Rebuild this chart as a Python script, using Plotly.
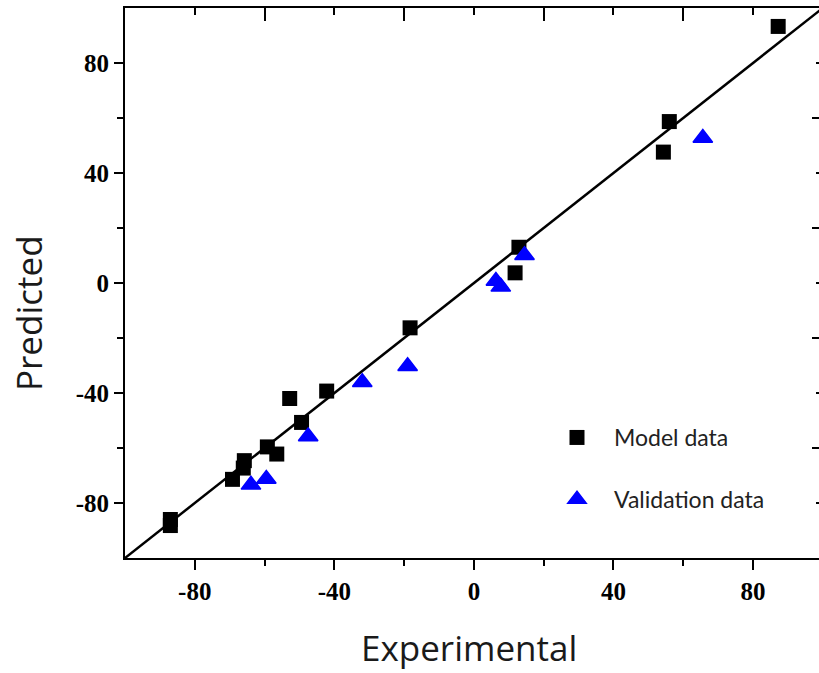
import plotly.graph_objects as go

# Model data (black squares)
model_x = [87.2, 56.0, 54.3, 12.9, 11.8, -18.3, -42.2, -52.8, -49.4, -56.5, -59.2, -65.8, -66.1, -69.2, -87.0, -87.0]
model_y = [93.3, 58.7, 47.6, 13.0, 3.7, -16.3, -39.3, -42.0, -50.7, -62.2, -59.6, -64.6, -67.3, -71.4, -86.0, -88.2]

# Validation data (blue triangles)
val_x = [65.6, 14.5, 6.3, 7.7, -19.0, -32.0, -47.5, -59.5, -63.9]
val_y = [52.7, 10.1, 0.7, -1.4, -30.3, -36.1, -55.8, -71.3, -73.4]

# Reference line y = x
line_x = [-100, 100]
line_y = [-100, 100]

major_ticks = [-80, -40, 0, 40, 80]
tick_labels = ["-80", "-40", "0", "40", "80"]
minor_ticks = [-60, -20, 20, 60]

W, H = 819, 673
ML, MR, MT, MB = 125, 0, 8, 115
PW, PH = W - ML - MR, H - MT - MB


def px_x(p):
    return (p - ML) / PW


def px_y(p):
    return (H - MB - p) / PH


tickfont = dict(family="Liberation Serif", size=25, color="black", weight="bold")
titlefont = dict(family="Open Sans", size=35, color="#1a1a1a")

fig = go.Figure()
fig.add_trace(go.Scatter(x=line_x, y=line_y, mode="lines",
                         line=dict(color="black", width=2.5), showlegend=False, hoverinfo="skip"))
fig.add_trace(go.Scatter(x=model_x, y=model_y, mode="markers", name="Model data",
                         legendgroup="m",
                         marker=dict(symbol="square", size=15, color="black")))
fig.add_trace(go.Scatter(x=val_x, y=val_y, mode="markers", name="Validation data",
                         legendgroup="v",
                         marker=dict(symbol="triangle-up", size=17, color="#0000ff",
                                     line=dict(color="#0000ff", width=1.5))))
# empty trace so the mirrored top/right axes are drawn
fig.add_trace(go.Scatter(x=[None], y=[None], xaxis="x2", yaxis="y2", mode="markers",
                         showlegend=False, hoverinfo="skip"))

fig.update_layout(
    width=W, height=H,
    margin=dict(l=ML, r=MR, t=MT, b=MB),
    plot_bgcolor="white", paper_bgcolor="white",
    xaxis=dict(range=[-100, 98.9], showline=True, linewidth=2, linecolor="black",
               showgrid=False, zeroline=False, ticks="outside", ticklen=10, tickwidth=2,
               tickcolor="black", tickvals=major_ticks, ticktext=tick_labels,
               tickfont=tickfont,
               minor=dict(tickvals=minor_ticks, ticks="outside", ticklen=6,
                          tickwidth=2, tickcolor="black", showgrid=False)),
    yaxis=dict(range=[-100, 100], showline=True, linewidth=2, linecolor="black",
               showgrid=False, zeroline=False, ticks="outside", ticklen=9, tickwidth=2,
               tickcolor="black", tickvals=major_ticks, ticktext=tick_labels,
               tickfont=tickfont,
               minor=dict(tickvals=minor_ticks, ticks="outside", ticklen=6,
                          tickwidth=2, tickcolor="black", showgrid=False)),
    xaxis2=dict(range=[-100, 98.9], overlaying="x", side="top", anchor="y2",
                showline=True, linewidth=2, linecolor="black", showgrid=False,
                zeroline=False, ticks="inside", ticklen=13, tickwidth=2, tickcolor="black",
                tickvals=minor_ticks, showticklabels=False,
                minor=dict(tickvals=major_ticks, ticks="inside", ticklen=7, tickwidth=2,
                           tickcolor="black", showgrid=False)),
    yaxis2=dict(range=[-100, 100], overlaying="y", side="right", anchor="x2",
                showline=False, showgrid=False, zeroline=False, ticks="inside",
                ticklen=7, tickwidth=2, tickcolor="black",
                tickvals=minor_ticks, showticklabels=False,
                minor=dict(tickvals=major_ticks, ticks="inside", ticklen=3, tickwidth=2,
                           tickcolor="black", showgrid=False)),
    legend=dict(x=px_x(540), y=px_y(416), xanchor="left", yanchor="top",
                font=dict(family="Lato", size=23, color="#222222"),
                bgcolor="rgba(0,0,0,0)", itemwidth=64, tracegroupgap=29),
    showlegend=True,
    annotations=[
        dict(text="Experimental", x=px_x(469), y=px_y(647), xref="paper", yref="paper",
             xanchor="center", yanchor="middle", showarrow=False, font=titlefont),
        dict(text="Predicted", x=px_x(28), y=px_y(313), xref="paper", yref="paper",
             xanchor="center", yanchor="middle", showarrow=False, textangle=-90,
             font=titlefont),
    ],
)

fig.write_html("out.html")
